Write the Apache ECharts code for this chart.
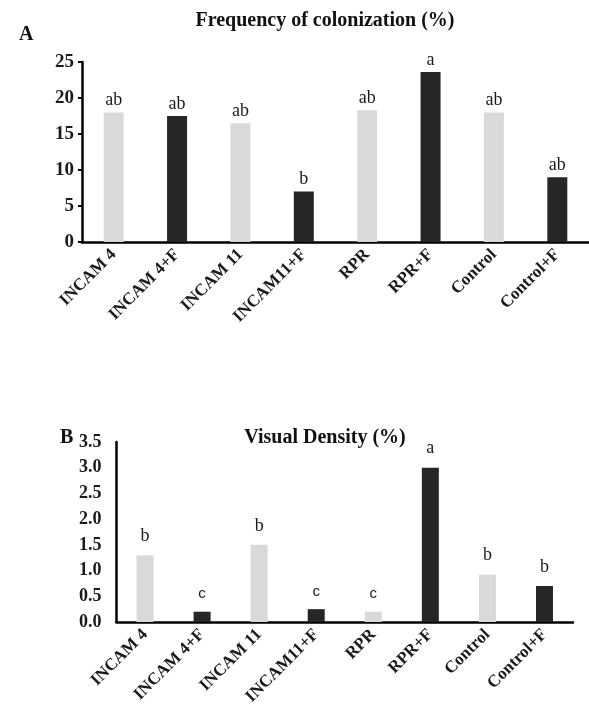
<!DOCTYPE html>
<html>
<head>
<meta charset="utf-8">
<script src="https://cdn.jsdelivr.net/npm/echarts@6/dist/echarts.min.js"></script>
<style>
html,body{margin:0;padding:0;background:#fff;}
#chart{width:589px;height:717px;}
</style>
</head>
<body>
<div id="chart"></div>
<script>
const categories = ['INCAM 4', 'INCAM 4+F', 'INCAM 11', 'INCAM11+F', 'RPR', 'RPR+F', 'Control', 'Control+F'];
const freqValues = [18.0, 17.5, 16.5, 7.0, 18.3, 23.6, 18.0, 9.0];
const freqLetters = ['ab', 'ab', 'ab', 'b', 'ab', 'a', 'ab', 'ab'];
const densityValues = [1.3, 0.2, 1.5, 0.25, 0.2, 3.0, 0.92, 0.7];
const densityLetters = ['b', 'c', 'b', 'c', 'c', 'a', 'b', 'b'];
const fertilized = [false, true, false, true, false, true, false, true];
const freqTicks = [0, 5, 10, 15, 20, 25];
const densityTicks = ['0.0', '0.5', '1.0', '1.5', '2.0', '2.5', '3.0', '3.5'];

const LIGHT = '#d9d9d9', DARK = '#262626';
const SERIF = '"Liberation Serif", "Times New Roman", serif';

function makeData(values, letters, sansForC) {
  return values.map((v, i) => {
    const item = { value: v, itemStyle: { color: fertilized[i] ? DARK : LIGHT } };
    if (sansForC && letters[i] === 'c') {
      item.label = { fontFamily: '"Liberation Sans", Arial, sans-serif', fontSize: 15 };
    }
    return item;
  });
}

const xAxisCommon = {
  type: 'category',
  data: categories,
  axisLine: { show: true, lineStyle: { color: '#000', width: 2.5 } },
  axisTick: { show: false },
  axisLabel: {
    rotate: 45, interval: 0, margin: 10,
    fontFamily: SERIF, fontWeight: 'bold', fontSize: 17, color: '#1a1a1a'
  }
};

const chart = echarts.init(document.getElementById('chart'));
chart.setOption({
  backgroundColor: '#fff',
  animation: false,
  title: [
    { text: 'Frequency of colonization (%)', left: 320, top: 6, textAlign: 'center',
      textStyle: { fontFamily: SERIF, fontWeight: 'bold', fontSize: 20, color: '#111' } },
    { text: 'A', left: 14, top: 20,
      textStyle: { fontFamily: SERIF, fontWeight: 'bold', fontSize: 20, color: '#111' } },
    { text: 'Visual Density (%)', left: 320, top: 423, textAlign: 'center',
      textStyle: { fontFamily: SERIF, fontWeight: 'bold', fontSize: 20, color: '#111' } },
    { text: 'B', left: 55, top: 423,
      textStyle: { fontFamily: SERIF, fontWeight: 'bold', fontSize: 20, color: '#111' } }
  ],
  grid: [
    { left: 82, top: 62, width: 507, height: 180, containLabel: false },
    { left: 116.5, top: 442, width: 456.5, height: 180, containLabel: false }
  ],
  xAxis: [
    Object.assign({ gridIndex: 0 }, xAxisCommon),
    Object.assign({ gridIndex: 1 }, xAxisCommon)
  ],
  yAxis: [
    {
      gridIndex: 0, type: 'value', min: freqTicks[0], max: freqTicks[freqTicks.length - 1], interval: 5,
      axisLine: { show: true, lineStyle: { color: '#000', width: 2.5 } },
      axisTick: { show: true, length: 4, lineStyle: { color: '#000', width: 2 } },
      splitLine: { show: false },
      axisLabel: { fontFamily: SERIF, fontWeight: 'bold', fontSize: 19, color: '#1a1a1a', margin: 8 }
    },
    {
      gridIndex: 1, type: 'value', min: 0, max: 3.5, interval: 0.5,
      axisLine: { show: true, lineStyle: { color: '#000', width: 2.5 } },
      axisTick: { show: false },
      splitLine: { show: false },
      axisLabel: { fontFamily: SERIF, fontWeight: 'bold', fontSize: 18, color: '#1a1a1a', margin: 15,
        formatter: (v) => densityTicks[Math.round(v / 0.5)] }
    }
  ],
  series: [
    {
      type: 'bar', xAxisIndex: 0, yAxisIndex: 0, barWidth: 20,
      data: makeData(freqValues, freqLetters, false),
      label: { show: true, position: 'top', distance: 3,
        formatter: (p) => freqLetters[p.dataIndex],
        fontFamily: SERIF, fontSize: 18, color: '#1a1a1a' }
    },
    {
      type: 'bar', xAxisIndex: 1, yAxisIndex: 1, barWidth: 17,
      data: makeData(densityValues, densityLetters, true),
      label: { show: true, position: 'top', distance: 10,
        formatter: (p) => densityLetters[p.dataIndex],
        fontFamily: SERIF, fontSize: 18, color: '#1a1a1a' }
    }
  ]
});
</script>
</body>
</html>
